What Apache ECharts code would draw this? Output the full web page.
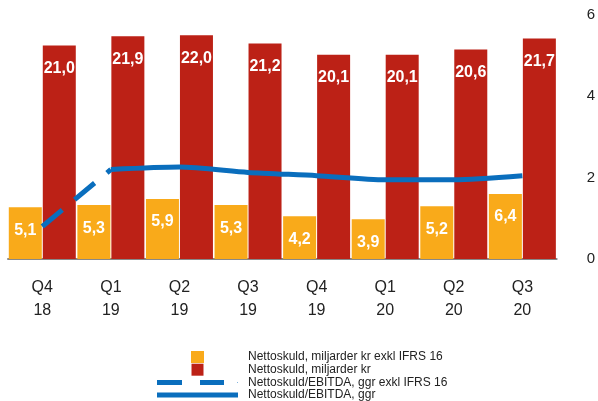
<!DOCTYPE html>
<html>
<head>
<meta charset="utf-8">
<script src="https://cdn.jsdelivr.net/npm/echarts@6/dist/echarts.min.js"></script>
<style>
  html, body { margin: 0; padding: 0; background: #fff; }
  #main { width: 598px; height: 401px; }
</style>
</head>
<body>
<div id="main"></div>
<script>
var categories = ['Q4\n18', 'Q1\n19', 'Q2\n19', 'Q3\n19', 'Q4\n19', 'Q1\n20', 'Q2\n20', 'Q3\n20'];
var debtExIfrs = [5.1, 5.3, 5.9, 5.3, 4.2, 3.9, 5.2, 6.4];
var debt = [21.0, 21.9, 22.0, 21.2, 20.1, 20.1, 20.6, 21.7];
var ratioExIfrs = [0.8, 2.2, '-', '-', '-', '-', '-', '-'];
var ratio = ['-', 2.2, 2.26, 2.13, 2.05, 1.95, 1.95, 2.05];
var names = [
  'Nettoskuld, miljarder kr exkl IFRS 16',
  'Nettoskuld, miljarder kr',
  'Nettoskuld/EBITDA, ggr exkl IFRS 16',
  'Nettoskuld/EBITDA, ggr'
];

var font = 'Liberation Sans, Arial, sans-serif';
var orange = '#f9aa1a';
var red = '#bc2116';
var blue = '#0a6ebd';

function fmt(p) {
  return p.value.toFixed(1).replace('.', ',');
}

var barLabel = {
  show: true,
  position: 'insideTop',
  distance: 15,
  color: '#fff',
  fontWeight: 'bold',
  fontSize: 16,
  fontFamily: font,
  formatter: fmt
};

var myChart = echarts.init(document.getElementById('main'));
var option = {
  animation: false,
  textStyle: { fontFamily: font },
  grid: { left: 8, right: 38, top: 15, bottom: 142 },
  legend: {
    orient: 'vertical',
    left: 157,
    top: 351,
    height: 60,
    padding: 0,
    itemWidth: 81,
    itemHeight: 12,
    itemGap: 0.7,
    selectedMode: false,
    textStyle: { fontSize: 12, color: '#222', fontFamily: font, lineHeight: 12, padding: [0, 0, 0, 5] },
    data: [
      { name: names[0], icon: 'path://M0 0H13V12H0Z' },
      { name: names[1], icon: 'path://M0 0H13V13H0Z' },
      { name: names[2], icon: 'path://M0 0H25V5H0Z M43 0H67V5H43Z M80 2L81 2L81 3Z' },
      { name: names[3], icon: 'path://M0 0H81V5H0Z' }
    ]
  },
  xAxis: {
    type: 'category',
    data: categories,
    axisLine: { lineStyle: { color: '#888', width: 2 } },
    axisTick: { show: false },
    axisLabel: { color: '#222', fontSize: 16, lineHeight: 23, margin: 17, fontFamily: font }
  },
  yAxis: [
    { type: 'value', min: 0, max: 24, show: false },
    {
      type: 'value', min: 0, max: 6, interval: 2, position: 'right',
      axisLine: { show: false }, axisTick: { show: false }, splitLine: { show: false },
      axisLabel: { color: '#222', fontSize: 15, margin: 30, fontFamily: font }
    }
  ],
  series: [
    {
      name: names[0], type: 'bar', data: debtExIfrs, barWidth: 33, barGap: '3%',
      itemStyle: { color: orange }, label: barLabel
    },
    {
      name: names[1], type: 'bar', data: debt, barWidth: 33,
      itemStyle: { color: red }, label: barLabel
    },
    {
      name: names[2], type: 'line', yAxisIndex: 1, data: ratioExIfrs,
      symbol: 'none', z: 5,
      lineStyle: { color: blue, width: 5, type: [26, 16] },
      itemStyle: { color: blue }
    },
    {
      name: names[3], type: 'line', yAxisIndex: 1, data: ratio,
      symbol: 'none', smooth: 0.25, z: 5,
      lineStyle: { color: blue, width: 5 },
      itemStyle: { color: blue }
    }
  ]
};
myChart.setOption(option);
</script>
</body>
</html>
